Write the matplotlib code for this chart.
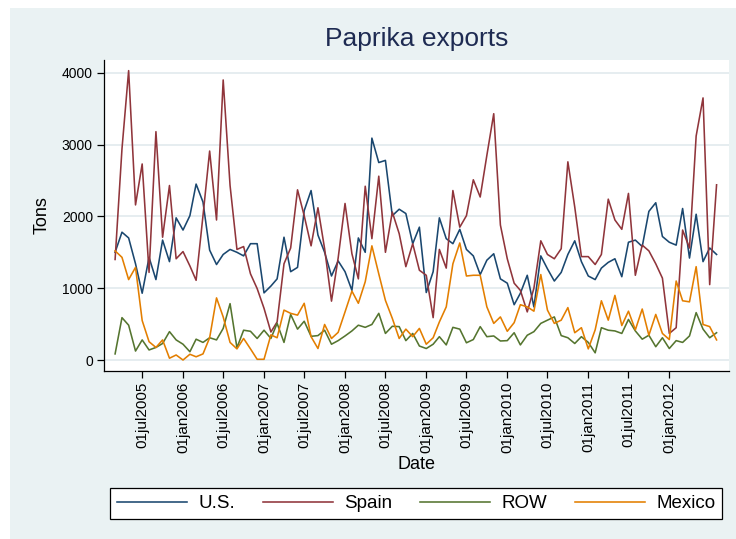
import matplotlib
matplotlib.use("Agg")
import matplotlib.pyplot as plt
from matplotlib.patches import Rectangle
import pandas as pd

plt.rcParams["font.family"] = ["Liberation Sans", "DejaVu Sans"]

# Monthly exports in tons, Mar 2005 - Aug 2012
start_month = "2005-03-01"

us = [1500, 1780, 1700, 1340, 930, 1430, 1120, 1670, 1370, 1980,
      1810, 2010, 2450, 2200, 1530, 1330, 1470, 1540, 1500, 1450,
      1620, 1620, 935, 1030, 1130, 1710, 1230, 1290, 2080, 2360,
      1740, 1500, 1170, 1380, 1230, 970, 1700, 1500, 3090, 2750,
      2780, 2010, 2100, 2040, 1620, 1850, 940, 1230, 1980, 1690,
      1620, 1820, 1540, 1450, 1190, 1390, 1480, 1130, 1070, 770,
      930, 1180, 740, 1450, 1270, 1100, 1220, 1470, 1660, 1370,
      1170, 1120, 1280, 1360, 1410, 1160, 1640, 1670, 1580, 2070,
      2190, 1720, 1640, 1600, 2110, 1420, 2030, 1370, 1560, 1470]

spain = [1400, 2940, 4030, 2160, 2730, 1220, 3180, 1710, 2430, 1410,
         1510, 1310, 1110, 2010, 2910, 1950, 3900, 2430, 1540, 1580,
         1200, 995, 720, 390, 530, 1340, 1560, 2370, 2010, 1590,
         2120, 1550, 820, 1420, 2180, 1480, 1130, 2420, 1690, 2560,
         1500, 2060, 1760, 1300, 1620, 1250, 1180, 590, 1540, 1280,
         2360, 1850, 2010, 2510, 2270, 2850, 3430, 1880, 1410, 1070,
         970, 670, 1000, 1660, 1470, 1410, 1550, 2760, 2130, 1440,
         1440, 1330, 1470, 2240, 1950, 1820, 2320, 1180, 1600, 1520,
         1340, 1140, 370, 450, 1810, 1560, 3120, 3650, 1050, 2440]

row = [85, 590, 485, 125, 280, 140, 175, 230, 395, 280,
       220, 115, 290, 245, 310, 280, 440, 785, 170, 415,
       400, 300, 415, 300, 510, 245, 635, 430, 540, 330,
       340, 415, 220, 270, 335, 405, 485, 455, 495, 650,
       370, 470, 465, 270, 370, 195, 160, 220, 325, 210,
       455, 430, 240, 285, 465, 325, 335, 265, 270, 380,
       210, 345, 395, 510, 555, 600, 340, 310, 230, 325,
       245, 100, 450, 415, 405, 370, 565, 405, 290, 345,
       185, 310, 160, 270, 245, 335, 660, 430, 310, 380]

mexico = [1520, 1430, 1120, 1290, 550, 255, 175, 280, 25, 70,
          0, 80, 45, 85, 310, 865, 600, 245, 155, 300,
          155, 10, 10, 350, 310, 695, 650, 625, 790, 325,
          160, 495, 300, 385, 670, 960, 790, 1090, 1590, 1200,
          830, 580, 300, 430, 325, 440, 220, 310, 530, 740,
          1340, 1630, 1170, 1180, 1180, 740, 510, 600, 400, 520,
          770, 740, 680, 1190, 695, 510, 555, 730, 380, 450,
          155, 420, 825, 555, 900, 480, 680, 420, 710, 345,
          635, 370, 285, 1100, 825, 810, 1300, 495, 465, 280]

series_names = ["U.S.", "Spain", "ROW", "Mexico"]
series_colors = ["#1A476F", "#90353B", "#55752F", "#E37E00"]

tick_dates = ["2005-07-01", "2006-01-01", "2006-07-01", "2007-01-01",
              "2007-07-01", "2008-01-01", "2008-07-01", "2009-01-01",
              "2009-07-01", "2010-01-01", "2010-07-01", "2011-01-01",
              "2011-07-01", "2012-01-01"]
tick_labels = ["01jul2005", "01jan2006", "01jul2006", "01jan2007",
               "01jul2007", "01jan2008", "01jul2008", "01jan2009",
               "01jul2009", "01jan2010", "01jul2010", "01jan2011",
               "01jul2011", "01jan2012"]
y_ticks = [0, 1000, 2000, 3000, 4000]

dates = pd.date_range(start_month, periods=len(us), freq="MS")

W, H = 736, 539
fig = plt.figure(figsize=(W / 100, H / 100), dpi=100)
fig.patch.set_facecolor("white")
bg = "#EAF2F3"
fig.add_artist(Rectangle((10 / W, 0), 1 - 10 / W, 1 - 8 / H,
                         transform=fig.transFigure, facecolor=bg,
                         edgecolor="none", zorder=-10))

ax = fig.add_axes([104 / W, (H - 371) / H, (729 - 104) / W, (371 - 60) / H])
ax.set_facecolor("white")

lines = []
for vals, name, col in zip([us, spain, row, mexico], series_names, series_colors):
    ln, = ax.plot(dates, vals, color=col, lw=1.15, label=name, zorder=3)
    lines.append(ln)

ax.set_xlim(pd.Timestamp("2005-01-10"), pd.Timestamp("2012-09-26"))
ax.set_ylim(-153, 4178)

ax.set_yticks(y_ticks)
ax.set_yticklabels([str(v) for v in y_ticks], fontsize=10)
ax.set_xticks(pd.to_datetime(tick_dates))
ax.set_xticklabels(tick_labels, rotation=90, fontsize=11)

ax.grid(axis="y", color="#E4ECEF", lw=1.3, zorder=0)
ax.grid(axis="x", visible=False)

for s in ["top", "right"]:
    ax.spines[s].set_visible(False)
for s in ["left", "bottom"]:
    ax.spines[s].set_color("black")
    ax.spines[s].set_linewidth(0.9)
ax.tick_params(direction="out", length=5, width=0.9, color="black", pad=3)

ax.set_ylabel("Tons", fontsize=13, labelpad=8)
ax.set_xlabel("Date", fontsize=13, labelpad=2)
ax.set_title("Paprika exports", fontsize=19, color="#1E2B52", pad=10)

leg = fig.legend(lines, series_names, loc="center",
                 bbox_to_anchor=(110 / W, (H - 521) / H, 612 / W, 35 / H),
                 mode="expand", ncol=4, fontsize=13.5, frameon=True,
                 fancybox=False, edgecolor="black", facecolor="white",
                 framealpha=1, handlelength=3.75, handletextpad=0.6,
                 borderaxespad=0, borderpad=0.35)
leg.get_frame().set_linewidth(0.9)

fig.savefig("out.png", dpi=100)
